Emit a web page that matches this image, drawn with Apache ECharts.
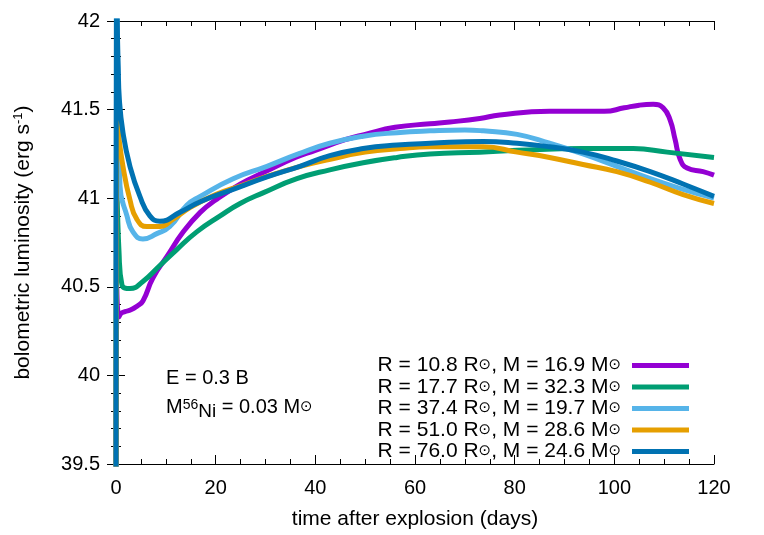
<!DOCTYPE html>
<html lang="en">
<head>
    <meta charset="UTF-8">
    <script type="text/javascript" src="https://cdn.jsdelivr.net/npm/echarts@6/dist/echarts.min.js"></script>
    <style>
        html, body {margin: 0; padding: 0; background: #fff;}
        #chart {width: 764px; height: 535px;}
    </style>
</head>
<body>
<div id="chart"></div>
<script>
    // model parameters (legend)
    var radii = ['10.8', '17.7', '37.4', '51.0', '76.0'];
    var masses = ['16.9', '32.3', '19.7', '28.6', '24.6'];
    var colors = ['#9400d3', '#009e73', '#56b4e9', '#e69f00', '#0072b2'];

    // light curves: time (days) and log L (erg/s)
    var tPurple = [0, 0.15, 0.6, 1.0, 1.8, 3.0, 4.2, 5.4, 7.4, 10.2, 13.5, 16.9, 20, 25, 30, 36, 40, 46, 50, 56, 63, 67, 73, 77, 87, 98, 102, 105, 107.8, 109.8, 111.2, 112.2, 113.2, 114.6, 117.8, 120];
    var lPurple = [39.0, 40.5, 40.33, 40.35, 40.36, 40.37, 40.39, 40.42, 40.55, 40.67, 40.81, 40.92, 40.99, 41.08, 41.15, 41.23, 41.27, 41.33, 41.36, 41.40, 41.42, 41.43, 41.45, 41.47, 41.49, 41.49, 41.51, 41.525, 41.53, 41.51, 41.44, 41.33, 41.22, 41.17, 41.15, 41.13];

    var tGreen = [0, 0.15, 0.6, 1.2, 2.8, 5.4, 8.8, 12.2, 16.2, 20.9, 24.9, 29.5, 36.3, 42.9, 49.6, 56.4, 63, 73, 80.5, 93.7, 103.8, 110.6, 120];
    var lGreen = [39.0, 41.1, 40.7, 40.51, 40.49, 40.53, 40.62, 40.71, 40.81, 40.90, 40.97, 41.03, 41.11, 41.16, 41.20, 41.23, 41.25, 41.26, 41.27, 41.28, 41.28, 41.26, 41.23];

    var tLight = [0, 0.15, 0.8, 2.2, 3.4, 5.4, 8.2, 10.8, 14.2, 16.9, 23.5, 30.3, 36.6, 42.9, 49.6, 56.4, 63, 70, 73.7, 80.5, 87, 93.7, 100.5, 107.2, 113.8, 120];
    var lLight = [39.0, 42.3, 41.07, 40.90, 40.81, 40.77, 40.80, 40.84, 40.96, 41.01, 41.11, 41.18, 41.25, 41.31, 41.35, 41.37, 41.38, 41.385, 41.38, 41.36, 41.31, 41.25, 41.18, 41.11, 41.05, 41.0];

    var tOrange = [0, 0.15, 0.4, 1.4, 2.8, 4.2, 6.2, 8.8, 11.4, 15, 20, 25, 30, 37, 43, 50, 57, 63, 67, 73.7, 80.5, 87, 93.7, 100.5, 107.2, 113.8, 120];
    var lOrange = [39.0, 41.45, 41.38, 41.18, 40.99, 40.88, 40.84, 40.84, 40.88, 40.95, 41.02, 41.07, 41.12, 41.18, 41.22, 41.26, 41.28, 41.29, 41.29, 41.29, 41.26, 41.23, 41.19, 41.15, 41.09, 41.02, 40.97];

    var tBlue = [0, 0.1, 0.25, 0.45, 0.67, 1.4, 2.8, 4.8, 6.8, 8.8, 12.8, 16.9, 23.5, 30.3, 36.9, 42.9, 49.6, 56.4, 63, 73.7, 80.5, 87, 93.7, 100.5, 107.2, 113.8, 120];
    var lBlue = [39.0, 42.5, 42.0, 41.74, 41.56, 41.37, 41.18, 41.01, 40.90, 40.87, 40.92, 40.98, 41.05, 41.12, 41.18, 41.24, 41.28, 41.30, 41.31, 41.32, 41.31, 41.29, 41.26, 41.21, 41.15, 41.08, 41.01];

    var curves = [[tPurple, lPurple], [tGreen, lGreen], [tLight, lLight], [tOrange, lOrange], [tBlue, lBlue]];

    var FONT = '"Liberation Sans", Arial, sans-serif';

    function zip(t, l) {
        var out = [];
        for (var i = 0; i < t.length; i++) out.push([t[i], l[i]]);
        return out;
    }

    var names = radii.map(function (r, i) {
        return 'R = ' + r + ' R\u2299, M = ' + masses[i] + ' M\u2299';
    });

    var series = curves.map(function (c, i) {
        return {
            name: names[i],
            type: 'line',
            data: zip(c[0], c[1]),
            showSymbol: false,
            smooth: 0.5,
            color: colors[i],
            lineStyle: {width: 5, color: colors[i]}
        };
    });

    var tickX = {show: true, inside: true, length: 9, lineStyle: {color: '#000'}};
    var minorX = {show: true, splitNumber: 4, length: 5, lineStyle: {color: '#000'}};
    var tickY = {show: true, inside: true, length: 9, lineStyle: {color: '#000'}};
    var minorY = {show: true, splitNumber: 5, length: 5, lineStyle: {color: '#000'}};

    var myChart = echarts.init(document.getElementById('chart'));
    myChart.setOption({
        backgroundColor: '#fff',
        animation: false,
        textStyle: {fontFamily: FONT},
        grid: {left: 116, right: 50, top: 21, bottom: 69},
        legend: {
            orient: 'vertical',
            right: 75,
            top: 355,
            padding: 0,
            align: 'right',
            itemWidth: 57,
            itemHeight: 5,
            itemGap: 0.5,
            icon: 'rect',
            data: names,
            formatter: function (n) {
                return n.replace(/\u2299/g, '{s|\u2299}');
            },
            textStyle: {
                fontFamily: FONT, fontSize: 21, color: '#000', lineHeight: 20,
                padding: [0, 6, 0, 0],
                rich: {s: {fontSize: 15, fontFamily: 'DejaVu Sans', color: '#000'}}
            }
        },
        xAxis: [{
            type: 'value', min: 0, max: 120, interval: 20,
            name: 'time after explosion (days)', nameLocation: 'middle', nameGap: 45,
            nameTextStyle: {fontSize: 21, color: '#000', fontFamily: FONT},
            axisLine: {lineStyle: {color: '#000', width: 1}},
            axisTick: tickX, minorTick: minorX,
            axisLabel: {fontSize: 20, color: '#000', margin: 14, fontFamily: FONT},
            splitLine: {show: false}
        }, {
            type: 'value', position: 'top', min: 0, max: 120, interval: 20,
            axisLine: {lineStyle: {color: '#000', width: 1}},
            axisTick: tickX, minorTick: minorX,
            axisLabel: {show: false}, splitLine: {show: false}
        }],
        yAxis: [{
            type: 'value', min: 39.5, max: 42, interval: 0.5,
            name: 'bolometric luminosity (erg s{sup|-1})', nameLocation: 'middle', nameGap: 82,
            nameTextStyle: {
                fontSize: 21, color: '#000', fontFamily: FONT,
                rich: {sup: {fontSize: 13, verticalAlign: 'top', padding: [0, 0, 9, 0], color: '#000'}}
            },
            axisLine: {lineStyle: {color: '#000', width: 1}},
            axisTick: tickY, minorTick: minorY,
            axisLabel: {fontSize: 20, color: '#000', margin: 16, fontFamily: FONT},
            splitLine: {show: false}
        }, {
            type: 'value', position: 'right', min: 39.5, max: 42, interval: 0.5,
            axisLine: {lineStyle: {color: '#000', width: 1}},
            axisTick: tickY, minorTick: minorY,
            axisLabel: {show: false}, splitLine: {show: false}
        }],
        graphic: [{
            type: 'text', left: 166, top: 368,
            style: {text: 'E = 0.3 B', font: '20px ' + FONT, fill: '#000'}
        }, {
            type: 'text', left: 166, top: 397,
            style: {
                text: 'M{sup|56}{sub|Ni} = 0.03 M{s|\u2299}',
                font: '20px ' + FONT, fill: '#000',
                rich: {
                    sup: {fontSize: 14, fontFamily: FONT, padding: [0, 0, 3, 0]},
                    sub: {fontSize: 19, fontFamily: FONT, padding: [10, 0, 0, 0]},
                    s: {fontSize: 15, fontFamily: 'DejaVu Sans'}
                }
            }
        }],
        series: series
    });
</script>
</body>
</html>
